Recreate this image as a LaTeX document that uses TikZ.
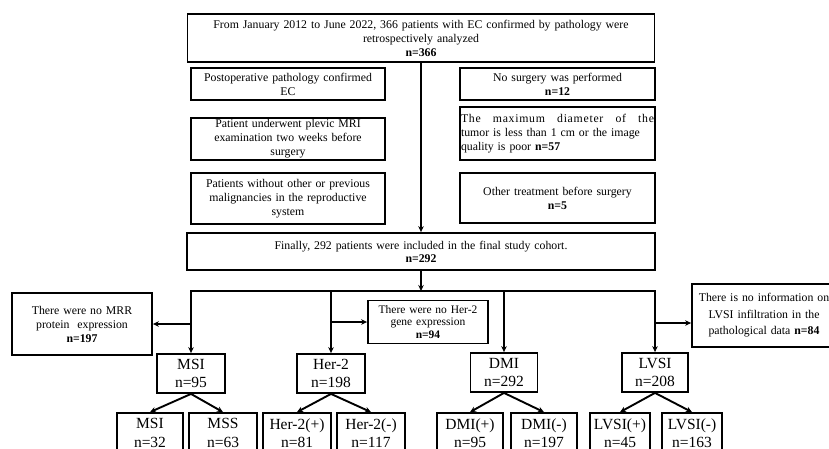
\documentclass[tikz,border=0pt]{standalone}
\usepackage{fontspec}
\setmainfont{Liberation Serif}
\usetikzlibrary{arrows.meta}
\begin{document}
\begin{tikzpicture}[x=1pt,y=-1pt,
 box/.style={draw, line width=1.8pt, inner sep=1pt, align=center, font=\fontsize{11.8}{14}\selectfont},
 sbox/.style={draw, line width=1.8pt, inner sep=0pt, align=center, font=\fontsize{15.5}{18.5}\selectfont},
 arr/.style={line width=1.9pt, -{Stealth[length=6pt,width=5.5pt]}},
 ln/.style={line width=1.9pt, line cap=rect}]
\useasboundingbox (0,0) rectangle (829,448);
\clip (0,0) rectangle (829,448);

\node[box, minimum width=467pt, minimum height=48pt, text width=460pt] (top) at (421,38)
 {From January 2012 to June 2022, 366 patients with EC confirmed by pathology were\\ retrospectively analyzed\\ \textbf{n=366}};

\node[box, minimum width=194pt, minimum height=32pt, text width=190pt] (L1) at (288,84)
 {Postoperative pathology confirmed\\EC};
\node[box, minimum width=194pt, minimum height=42pt, text width=190pt] (L2) at (288,139)
 {Patient underwent plevic MRI\\examination two weeks before\\surgery};
\node[box, minimum width=194pt, minimum height=51pt, text width=190pt] (L3) at (288,198.5)
 {Patients without other or previous\\malignancies in the reproductive\\system};

\node[box, minimum width=195pt, minimum height=32pt, text width=191pt] (R1) at (557.5,84)
 {No surgery was performed\\\textbf{n=12}};
\node[box, minimum width=195pt, minimum height=53pt, text width=193pt, align=left] (R2) at (557.5,133.5)
 {\makebox[193pt][l]{\addfontfeature{LetterSpace=6}The\hfill maximum\hfill diameter\hfill of\hfill the}\\tumor is less than 1 cm or the image\\quality is poor \textbf{n=57}};
\node[box, minimum width=195pt, minimum height=50pt, text width=191pt] (R3) at (557.5,198)
 {Other treatment before surgery\\\textbf{n=5}};

\node[box, minimum width=468pt, minimum height=37pt, text width=460pt, font=\fontsize{11.8}{13}\selectfont] (fin) at (421,251.5)
 {Finally, 292 patients were included in the final study cohort.\\\textbf{n=292}};

\coordinate (bus) at (0,291);
\coordinate (side) at (0,323);

\node[sbox, minimum width=68pt, minimum height=39pt] (MSI) at (191,373.5) {MSI\\n=95};
\node[sbox, minimum width=68pt, minimum height=39pt] (Her) at (331,373.5) {Her-2\\n=198};
\node[sbox, minimum width=67pt, minimum height=39pt] (DMI) at (504,372.5) {DMI\\n=292};
\node[sbox, minimum width=66pt, minimum height=39pt] (LVSI) at (655,372.5) {LVSI\\n=208};

\node[box, minimum width=140pt, minimum height=62pt, text width=136pt] (noMRR) at (82,324)
 {There were no MRR\\protein~~expression\\\textbf{n=197}};
\node[box, minimum width=120pt, minimum height=43pt, text width=116pt, font=\fontsize{11.5}{12.8}\selectfont] (noHer) at (428,322)
 {There were no Her-2\\gene expression\\\textbf{n=94}};
\node[box, minimum width=144pt, minimum height=63pt, text width=140pt, font=\fontsize{11.8}{16.5}\selectfont] (noLVSI) at (764,315.5)
 {There is no information on\\LVSI infiltration in the\\pathological data \textbf{n=84}};

\node[sbox, minimum width=66pt, minimum height=40pt] (MSIa) at (150,433) {MSI\\n=32};
\node[sbox, minimum width=68pt, minimum height=40pt] (MSIb) at (223,433) {MSS\\n=63};
\node[sbox, minimum width=68pt, minimum height=40pt] (Hera) at (297,433) {Her-2(+)\\n=81};
\node[sbox, minimum width=68pt, minimum height=40pt] (Herb) at (371,433) {Her-2(-)\\n=117};
\node[sbox, minimum width=66pt, minimum height=40pt] (DMIa) at (470,433) {DMI(+)\\n=95};
\node[sbox, minimum width=66pt, minimum height=40pt] (DMIb) at (544,433) {DMI(-)\\n=197};
\node[sbox, minimum width=60pt, minimum height=40pt] (LVSIa) at (620,433) {LVSI(+)\\n=45};
\node[sbox, minimum width=60pt, minimum height=40pt] (LVSIb) at (692,433) {LVSI(-)\\n=163};

\draw[arr] (top.south) -- (top.south |- fin.north);
\draw[arr] (fin.south) -- (fin.south |- bus);
\draw[ln] (MSI |- bus) -- (LVSI |- bus);
\draw[arr] (MSI |- bus) -- (MSI.north);
\draw[arr] (Her |- bus) -- (Her.north);
\draw[arr] (DMI |- bus) -- (DMI.north);
\draw[arr] (LVSI |- bus) -- (LVSI.north);
\draw[arr] (MSI |- noMRR.east) -- (noMRR.east);
\draw[arr] (Her |- noHer.west) -- (noHer.west);
\draw[arr] (LVSI |- side) -- (noLVSI.west |- side);

\draw[arr] (MSI.south) -- (MSIa.north);
\draw[arr] (MSI.south) -- (MSIb.north);
\draw[arr] (Her.south) -- (Hera.north);
\draw[arr] (Her.south) -- (Herb.north);
\draw[arr] (DMI.south) -- (DMIa.north);
\draw[arr] (DMI.south) -- (DMIb.north);
\draw[arr] (LVSI.south) -- (LVSIa.north);
\draw[arr] (LVSI.south) -- (LVSIb.north);
\end{tikzpicture}
\end{document}
